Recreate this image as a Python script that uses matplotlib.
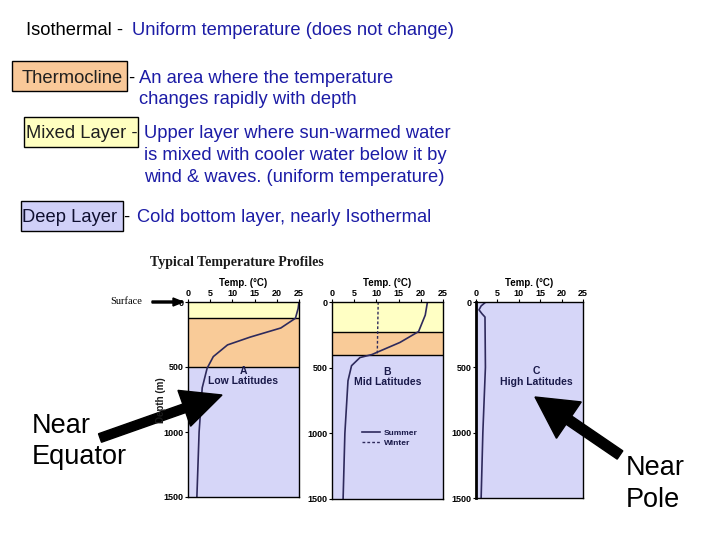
import matplotlib.pyplot as plt
from matplotlib.patches import Rectangle, FancyArrow

plt.rcParams['font.family'] = ['Liberation Sans', 'DejaVu Sans']

# definitions shown at the top of the slide
terms = ['Isothermal', 'Thermocline', 'Mixed Layer', 'Deep Layer']
term_lines = [
    ['Uniform temperature (does not change)'],
    ['An area where the temperature', 'changes rapidly with depth'],
    ['Upper layer where sun-warmed water', 'is mixed with cooler water below it by',
     'wind & waves. (uniform temperature)'],
    ['Cold bottom layer, nearly Isothermal'],
]

# temperature profiles (temp in degC, depth in m)
a_depth = [0, 50, 125, 200, 270, 330, 420, 510, 660, 1000, 1500]
a_temp = [25, 24.8, 24.2, 20.9, 14, 8.9, 5.7, 4.3, 3.2, 2.5, 2.0]
b_depth = [0, 100, 225, 308, 385, 400, 423, 485, 600, 1000, 1500]
b_temp = [21.5, 21, 19.5, 15.3, 10, 9, 6.3, 4.4, 3.6, 2.9, 2.5]
b_winter_depth = [0, 395]
b_winter_temp = [10.4, 10.2]
c_depth = [0, 30, 60, 90, 115, 500, 1000, 1500]
c_temp = [2.3, 1.2, 0.7, 1.4, 2.1, 2.2, 1.6, 1.2]

# layer boundaries (mixed layer bottom, thermocline bottom)
a_layers = [125, 500]
b_layers = [225, 400]

temp_ticks = [0, 5, 10, 15, 20, 25]
depth_ticks = [0, 500, 1000, 1500]

YELLOW = '#ffffc4'
ORANGE = '#f9cb98'
LAVENDER = '#d6d6f8'
TEXT_BLUE = '#1c1ca6'
CURVE = '#2e2a5c'

W, H = 720, 540
fig = plt.figure(figsize=(7.2, 5.4), dpi=100)


def panel(px_left, px_top, px_right, px_bottom, layers, letter, name, label_x=0.5):
    ax = fig.add_axes([px_left / W, 1 - px_bottom / H,
                       (px_right - px_left) / W, (px_bottom - px_top) / H])
    ax.set_xlim(0, 25)
    ax.set_ylim(1500, 0)
    if layers:
        ax.axhspan(0, layers[0], color=YELLOW, lw=0)
        ax.axhspan(layers[0], layers[1], color=ORANGE, lw=0)
        ax.axhspan(layers[1], 1500, color=LAVENDER, lw=0)
        for d in layers:
            ax.axhline(d, color='black', lw=1)
    else:
        ax.set_facecolor(LAVENDER)
    ax.xaxis.tick_top()
    ax.xaxis.set_label_position('top')
    ax.set_xticks(temp_ticks)
    ax.set_yticks(depth_ticks)
    ax.tick_params(labelsize=6.5, length=2, pad=1, width=0.8)
    for lab in ax.get_xticklabels() + ax.get_yticklabels():
        lab.set_fontweight('bold')
    ax.set_xlabel('Temp. (\u00b0C)', fontsize=7, fontweight='bold', labelpad=2)
    ax.text(label_x, 0.62, letter + '\n' + name,
            transform=ax.transAxes, ha='center', va='center', fontsize=7.5,
            fontweight='bold', color='#1a1a4a', linespacing=1.05)
    for s in ax.spines.values():
        s.set_linewidth(1)
    return ax


ax_a = panel(188, 302, 299, 497, a_layers, 'A', 'Low Latitudes')
ax_a.plot(a_temp, a_depth, color=CURVE, lw=1.2)

ax_b = panel(332, 302, 443, 499, b_layers, 'B', 'Mid Latitudes')
ax_b.plot(b_temp, b_depth, color=CURVE, lw=1.2, label='Summer')
ax_b.plot(b_winter_temp, b_winter_depth, color=CURVE, lw=1, ls=(0, (2, 1.5)), label='Winter')
leg = ax_b.legend(loc='center', bbox_to_anchor=(0.52, 0.31), frameon=False,
                  fontsize=6, handlelength=2.2, handletextpad=0.4,
                  labelspacing=0.2, borderpad=0)
for t in leg.get_texts():
    t.set_fontweight('bold')
    t.set_color('#1a1a4a')

ax_c = panel(476, 302, 583, 498, None, 'C', 'High Latitudes', label_x=0.56)
ax_c.plot(c_temp, c_depth, color=CURVE, lw=1.2)
ax_c.spines['left'].set_linewidth(2)

# overlay in pixel coordinates for text, boxes and arrows
ov = fig.add_axes([0, 0, 1, 1], zorder=10)
ov.set_xlim(0, W)
ov.set_ylim(H, 0)
ov.patch.set_alpha(0)
ov.axis('off')

fs = 13.2
ov.add_patch(Rectangle((12, 61), 115, 30, facecolor='#f9c898', edgecolor='black', lw=1))
ov.add_patch(Rectangle((24, 117), 114, 30, facecolor='#ffffc0', edgecolor='black', lw=1))
ov.add_patch(Rectangle((21, 201), 102, 30, facecolor='#d0d0f8', edgecolor='black', lw=1))

ov.text(26, 35, terms[0] + ' -', fontsize=fs, color='black')
ov.text(132, 35, term_lines[0][0], fontsize=fs, color=TEXT_BLUE)

ov.text(22, 83, terms[1], fontsize=fs, color='#202020')
ov.text(128, 83, '-', fontsize=fs, color='black')
ov.text(139, 83, term_lines[1][0], fontsize=fs, color=TEXT_BLUE)
ov.text(139, 104, term_lines[1][1], fontsize=fs, color=TEXT_BLUE)

ov.text(26, 138, terms[2] + ' -', fontsize=fs, color='#202020')
for i, line in enumerate(term_lines[2]):
    ov.text(144, 138 + 22 * i, line, fontsize=fs, color=TEXT_BLUE)

ov.text(22, 222, terms[3], fontsize=fs, color='#101030')
ov.text(123, 222, '-', fontsize=fs, color='black')
ov.text(137, 222, term_lines[3][0], fontsize=fs, color=TEXT_BLUE)

ov.text(150, 266, 'Typical Temperature Profiles', fontsize=10, fontweight='bold',
        family='Liberation Serif', color='#1a1a1a')
ov.text(110, 304, 'Surface', fontsize=7.5, family='Liberation Serif', color='black')
ov.add_patch(FancyArrow(152, 302, 31, 0, width=2, head_width=8, head_length=10,
                        length_includes_head=True, color='black'))
ov.text(161, 400, 'Depth (m)', fontsize=7, fontweight='bold', rotation=90,
        ha='center', va='center', color='#1a1a1a')

ov.add_patch(FancyArrow(100, 438, 122, -43, width=9, head_width=38, head_length=40,
                        length_includes_head=True, color='black'))
ov.add_patch(FancyArrow(620, 455, -85, -58, width=10, head_width=44, head_length=41,
                        length_includes_head=True, color='black'))

ov.text(32, 433, 'Near', fontsize=19.5, color='black')
ov.text(32, 464, 'Equator', fontsize=19.5, color='black')
ov.text(626, 475, 'Near', fontsize=19.5, color='black')
ov.text(626, 507, 'Pole', fontsize=19.5, color='black')

fig.savefig('out.png', dpi=100)
